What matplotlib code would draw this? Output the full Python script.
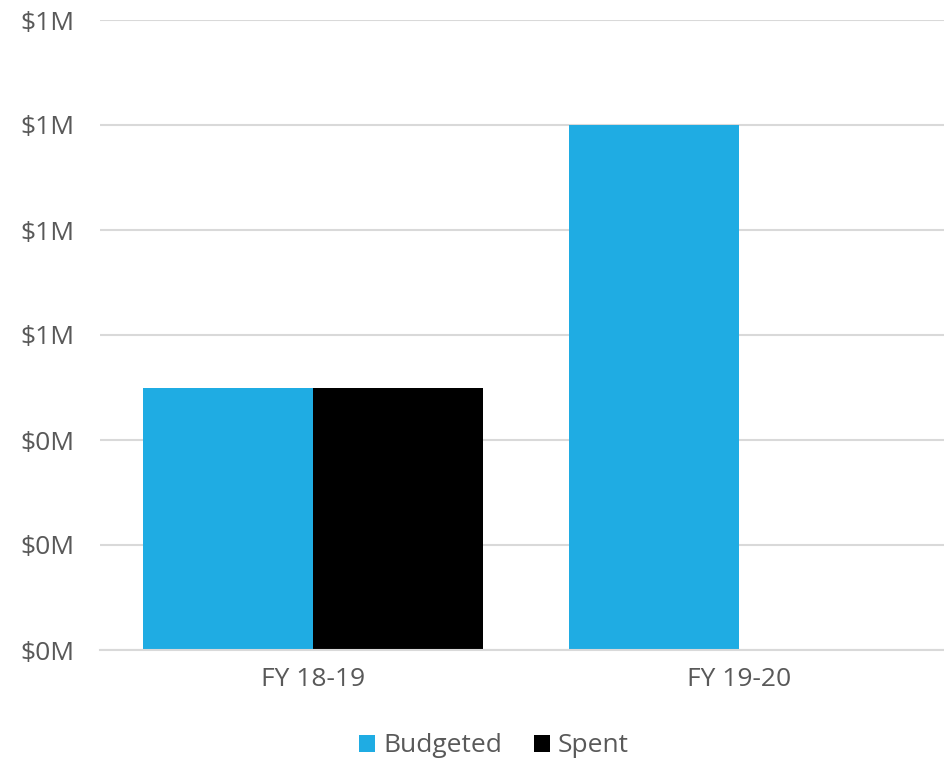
import numpy as np
import matplotlib.pyplot as plt
from matplotlib.ticker import FuncFormatter, MultipleLocator

# data
categories = ["FY 18-19", "FY 19-20"]
budgeted = [500000, 1000000]
spent = [500000, 0]

blue = "#1FACE3"
grey_txt = "#595959"
grid_col = "#D9D9D9"

plt.rcParams['font.family'] = ['Open Sans', 'DejaVu Sans']

fig = plt.figure(figsize=(9.44, 7.64), dpi=100)
ax = fig.add_axes([100/944, 1 - 650/764, 852/944, 630/764])

x = np.arange(len(categories))
w = 0.4
ax.bar(x - w/2, budgeted, width=w, color=blue, label="Budgeted", zorder=3)
ax.bar(x + w/2, spent, width=w, color="black", label="Spent", zorder=3)

ax.set_xlim(-0.5, 1.5)
ax.set_ylim(0, 1200000)
ax.yaxis.set_major_locator(MultipleLocator(200000))
ax.yaxis.set_major_formatter(FuncFormatter(lambda v, p: "${:.0f}M".format(v / 1e6)))
ax.set_xticks(x)
ax.set_xticklabels(categories)

ax.grid(axis='y', color=grid_col, linewidth=1.5, zorder=0)
for s in ['top', 'right', 'left']:
    ax.spines[s].set_visible(False)
ax.spines['bottom'].set_color(grid_col)
ax.spines['bottom'].set_linewidth(1.5)
ax.spines['bottom'].set_zorder(4)

ax.tick_params(axis='both', length=0, labelsize=19, colors=grey_txt)
ax.tick_params(axis='y', pad=18)
ax.tick_params(axis='x', pad=12)

leg = fig.legend(loc='center', bbox_to_anchor=(494/944, 1 - 746/764), ncol=2,
                 frameon=False, fontsize=19, handlelength=0.6, handleheight=0.6,
                 handletextpad=0.3, columnspacing=1.2)
for t in leg.get_texts():
    t.set_color(grey_txt)

fig.savefig("out.png", dpi=100)
